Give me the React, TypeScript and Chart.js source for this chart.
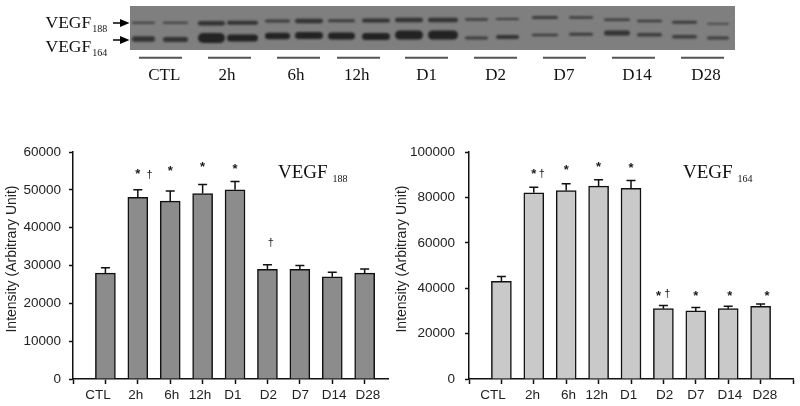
import React, { useEffect, useRef } from "react";
import { Chart, registerables } from "chart.js";

Chart.register(...registerables);

const categories = ["CTL", "2h", "6h", "12h", "D1", "D2", "D7", "D14", "D28"];

const vegf188 = [28000, 48000, 47000, 49000, 50000, 29000, 29000, 27000, 28000];
const vegf188Top = [29400, 50000, 49700, 51400, 52200, 30200, 30000, 28200, 29100];
const vegf164 = [43000, 82000, 83000, 85000, 84000, 31000, 30000, 31000, 32000];
const vegf164Top = [45200, 84500, 86000, 87800, 87400, 32400, 31500, 32000, 33000];

// Marks above bars: [position on category axis, value, glyph]
const marks188: [number, number, string][] = [
  [2, 54600, "*"], [2.36, 53800, "†"], [3, 55500, "*"], [4, 56500, "*"], [5, 56000, "*"], [6.1, 36000, "†"],
];
const marks164: [number, number, string][] = [
  [2, 91000, "*"], [2.25, 90200, "†"], [3, 92600, "*"], [4, 94000, "*"], [5, 93500, "*"],
  [5.85, 37400, "*"], [6.12, 37300, "†"], [7, 37400, "*"], [8.05, 37400, "*"], [9.2, 37400, "*"],
];

// Hand-placed category label positions on each x axis
const labelPos188 = [0.77, 1.94, 3.05, 3.92, 4.93, 6.03, 7.02, 8.06, 9.1];
const labelPos164 = [0.74, 1.96, 3.07, 3.94, 4.93, 6.04, 7, 8.05, 9.13];

// Western blot: one [start, end] pair per lane
const laneStart = [132, 163, 198, 227, 265, 295, 328, 362, 395, 428, 465, 496, 532, 569, 604, 637, 672, 707];
const laneEnd = [155, 188, 225, 258, 290, 323, 355, 390, 423, 458, 488, 519, 558, 593, 630, 662, 697, 729];
const upperBand = [22.7, 22.7, 23.2, 22.7, 21, 21, 20.8, 20.5, 20, 20, 19.5, 19, 17.5, 17.5, 19.8, 21, 22.2, 23.8];
const lowerBand = [39, 39.5, 38, 38, 36, 35.5, 36, 36.5, 35, 35, 38, 37, 35, 34.3, 33, 34.8, 36.8, 38];
const upperDensity = [2, 2, 4.5, 4, 3, 4.5, 3, 4, 4.5, 4.5, 2.5, 2, 3, 2.5, 2.5, 2.5, 3, 1.5];
const lowerDensity = [5.5, 5, 10, 7, 6.5, 7, 7, 7, 9, 9, 3, 4, 2.5, 3, 5, 3.5, 3.5, 3];

// Lane-group rules beneath the blot, and their captions
const groupStart = [139, 208, 277, 337, 405, 474, 543, 612, 681];
const groupEnd = [182, 251, 320, 380, 448, 517, 586, 655, 724];
const groupLabelAt = [164.3, 227, 296, 356.7, 426.7, 495.7, 564, 637, 706];

const SANS = '"Liberation Sans", Arial, sans-serif';
const SERIF = '"Liberation Serif", "Times New Roman", serif';
const INK = "#222222";

function vegfText(ctx: any, x: number, y: number, sub: string, size: number, gap: number) {
  ctx.save();
  ctx.fillStyle = "#111111";
  ctx.textAlign = "left";
  ctx.textBaseline = "alphabetic";
  ctx.font = `${size}px ${SERIF}`;
  ctx.fillText("VEGF", x, y);
  const w = ctx.measureText("VEGF").width;
  ctx.font = `10px ${SERIF}`;
  ctx.fillText(sub, x + w + gap, y + 4);
  ctx.restore();
}

function barConfig(o: {
  values: number[]; tops: number[]; marks: [number, number, string][]; labelPos: number[];
  fill: string; yMax: number; step: number; xMax: number; axisW: number; padRight: number; tickPad: number;
  sub: string; titleX: number; titleY: number;
}) {
  const overlay = {
    id: "overlay",
    afterDatasetsDraw(chart: any) {
      const { ctx, scales } = chart;
      const { x, y } = scales;
      ctx.save();
      // error whiskers
      ctx.strokeStyle = "#111111";
      ctx.lineWidth = 1.5;
      o.tops.forEach((t, i) => {
        const px = x.getPixelForValue(i + 1);
        const top = y.getPixelForValue(t);
        ctx.beginPath();
        ctx.moveTo(px, y.getPixelForValue(o.values[i]));
        ctx.lineTo(px, top);
        ctx.moveTo(px - 4.5, top);
        ctx.lineTo(px + 4.5, top);
        ctx.stroke();
      });
      // significance marks
      ctx.fillStyle = "#1a1a1a";
      ctx.textAlign = "center";
      ctx.textBaseline = "middle";
      o.marks.forEach(([p, v, g]) => {
        ctx.font = g === "*" ? `bold 13px ${SANS}` : `11px ${SANS}`;
        ctx.fillText(g, x.getPixelForValue(p), y.getPixelForValue(v) + (g === "*" ? 2 : 0));
      });
      // category labels
      ctx.fillStyle = INK;
      ctx.font = `13.5px ${SANS}`;
      categories.forEach((c, i) => {
        ctx.fillText(c, x.getPixelForValue(o.labelPos[i]), y.bottom + 16.5);
      });
      // y axis title, which sits above the centre of the axis
      ctx.save();
      ctx.translate(12, (y.top + y.bottom) / 2 - 6.5);
      ctx.rotate(-Math.PI / 2);
      ctx.font = `14px ${SANS}`;
      ctx.fillText("Intensity (Arbitrary Unit)", 0, 0);
      ctx.restore();
      ctx.restore();
      vegfText(ctx, o.titleX, o.titleY, o.sub, 19, 5);
    },
  };
  return {
    type: "bar",
    data: {
      datasets: [{
        data: o.values.map((v, i) => ({ x: i + 1, y: v })),
        backgroundColor: o.fill,
        borderColor: "#111111",
        borderWidth: 1.5,
        barThickness: 20,
      }],
    },
    options: {
      animation: false,
      responsive: false,
      layout: { padding: { top: 22, right: o.padRight, left: 0, bottom: 0 } },
      plugins: { legend: { display: false }, tooltip: { enabled: false } },
      scales: {
        x: {
          type: "linear",
          min: 0,
          max: o.xMax,
          offset: false,
          afterFit(s: any) { s.height = 27; },
          afterBuildTicks(s: any) {
            const t = [];
            for (let i = 0; i <= Math.floor(o.xMax); i++) t.push({ value: i });
            s.ticks = t;
          },
          ticks: { display: false, stepSize: 1 },
          grid: { offset: false, drawOnChartArea: false, drawTicks: true, tickLength: 5, color: "#111111", tickWidth: 1.5 },
          border: { color: "#111111", width: 1.5 },
        },
        y: {
          min: 0,
          max: o.yMax,
          afterFit(s: any) { s.width = o.axisW; },
          ticks: {
            stepSize: o.step,
            padding: o.tickPad,
            color: INK,
            font: { family: SANS, size: 13.5 },
            callback: (v: any) => String(v),
          },
          grid: { drawOnChartArea: false, drawTicks: true, tickLength: 4, color: "#111111", tickWidth: 1.5 },
          border: { color: "#111111", width: 1.5 },
        },
      },
    },
    plugins: [overlay],
  };
}

function blotConfig() {
  const band = (y: number[], w: number[]) =>
    laneStart.map((s, i) => ({
      data: [{ x: s + w[i] / 2, y: y[i] }, { x: laneEnd[i] - w[i] / 2, y: y[i] }],
      borderColor: w[i] < 4 ? "#3c3c3c" : w[i] < 6 ? "#333333" : "#232323",
      borderWidth: w[i],
      borderCapStyle: "round",
      pointRadius: 0,
      tension: 0,
    }));
  const panel = {
    id: "panel",
    beforeDatasetsDraw(chart: any) {
      const { ctx, chartArea: a } = chart;
      ctx.save();
      ctx.fillStyle = "#7f7f7f";
      ctx.fillRect(a.left, a.top, a.right - a.left, a.bottom - a.top);
      ctx.restore();
      ctx.filter = "blur(1.2px)";
    },
    afterDatasetsDraw(chart: any) {
      const { ctx, scales } = chart;
      const { x } = scales;
      ctx.filter = "none";
      ctx.save();
      // lane-group rules
      ctx.strokeStyle = "#555555";
      ctx.lineWidth = 2;
      groupStart.forEach((s, i) => {
        ctx.beginPath();
        ctx.moveTo(x.getPixelForValue(s), 57.7);
        ctx.lineTo(x.getPixelForValue(groupEnd[i]), 57.7);
        ctx.stroke();
      });
      // lane-group captions
      ctx.fillStyle = "#111111";
      ctx.font = `17px ${SERIF}`;
      ctx.textAlign = "center";
      ctx.textBaseline = "alphabetic";
      categories.forEach((c, i) => ctx.fillText(c, x.getPixelForValue(groupLabelAt[i]), 80));
      // arrows
      ctx.fillStyle = "#000000";
      ctx.strokeStyle = "#000000";
      ctx.lineWidth = 1.5;
      [23, 40].forEach((ay) => {
        ctx.beginPath();
        ctx.moveTo(113, ay);
        ctx.lineTo(122, ay);
        ctx.stroke();
        ctx.beginPath();
        ctx.moveTo(129.5, ay);
        ctx.lineTo(120, ay - 4);
        ctx.lineTo(120, ay + 4);
        ctx.closePath();
        ctx.fill();
      });
      ctx.restore();
      vegfText(ctx, 45.5, 28, "188", 17.5, 1);
      vegfText(ctx, 45.5, 52, "164", 17.5, 1);
    },
  };
  return {
    type: "line",
    data: { datasets: [...band(upperBand, upperDensity), ...band(lowerBand, lowerDensity)] },
    options: {
      animation: false,
      responsive: false,
      layout: { padding: { left: 130, right: 65, top: 6, bottom: 50 } },
      plugins: { legend: { display: false }, tooltip: { enabled: false } },
      scales: {
        x: { type: "linear", display: false, min: 130, max: 735 },
        y: { type: "linear", display: false, min: 6, max: 50, reverse: true },
      },
    },
    plugins: [panel],
  };
}

function Panel({ config, left, top, width, height }: any) {
  const ref = useRef<HTMLCanvasElement>(null);
  useEffect(() => {
    const chart = new Chart(ref.current as any, config());
    return () => chart.destroy();
  }, []);
  return (
    <canvas
      ref={ref}
      width={width}
      height={height}
      style={{ position: "absolute", left, top, width, height }}
    />
  );
}

export default function App() {
  return (
    <div style={{ position: "absolute", left: 0, top: 0, width: 800, height: 406, background: "#fff", overflow: "hidden" }}>
      <Panel config={blotConfig} left={0} top={0} width={800} height={100} />
      <Panel
        left={0} top={130} width={392} height={276}
        config={() => barConfig({
          values: vegf188, tops: vegf188Top, marks: marks188, labelPos: labelPos188,
          fill: "#8c8c8c", yMax: 60000, step: 10000, xMax: 9.72, axisW: 73, padRight: 4, tickPad: 8,
          sub: "188", titleX: 278, titleY: 48,
        })}
      />
      <Panel
        left={390} top={130} width={410} height={276}
        config={() => barConfig({
          values: vegf164, tops: vegf164Top, marks: marks164, labelPos: labelPos164,
          fill: "#c9c9c9", yMax: 100000, step: 20000, xMax: 10, axisW: 79, padRight: 7, tickPad: 10,
          sub: "164", titleX: 293, titleY: 48,
        })}
      />
    </div>
  );
}
